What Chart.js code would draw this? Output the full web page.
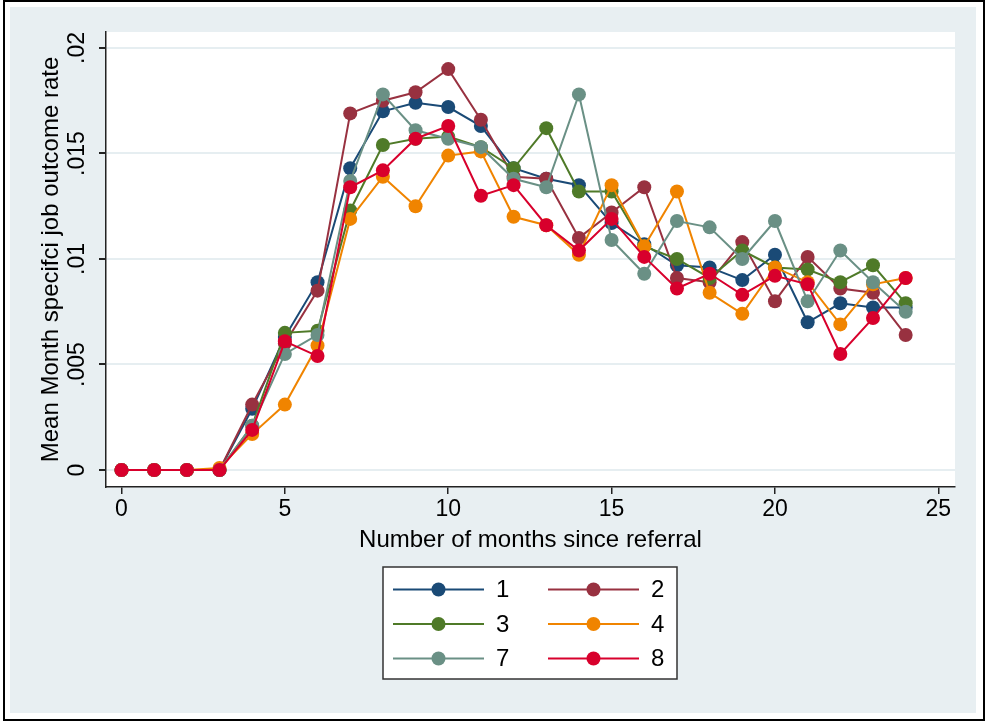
<!DOCTYPE html>
<html>
<head>
<meta charset="utf-8">
<script src="https://cdn.jsdelivr.net/npm/chart.js@4.4.0/dist/chart.umd.min.js"></script>
<style>
  html, body { margin: 0; padding: 0; background: #fff; }
</style>
</head>
<body>
<canvas id="myChart" width="987" height="722"></canvas>
<script>
// Data
const months = [0,1,2,3,4,5,6,7,8,9,10,11,12,13,14,15,16,17,18,19,20,21,22,23,24];
const groupNames = ['1', '2', '3', '4', '7', '8'];
const groupColors = ['#1a4a76', '#983140', '#4f7a28', '#f08400', '#6a9085', '#d8002c'];

const rate1 = [0,0,0,0,0.0029,0.0063,0.0089,0.0143,0.0170,0.0174,0.0172,0.0163,0.0143,0.0138,0.0135,0.0117,0.0107,0.0097,0.0096,0.0090,0.0102,0.0070,0.0079,0.0077,0.0077];
const rate2 = [0,0,0,0,0.0031,0.0060,0.0085,0.0169,0.0175,0.0179,0.0190,0.0166,0.0139,0.0138,0.0110,0.0122,0.0134,0.0091,0.0089,0.0108,0.0080,0.0101,0.0086,0.0084,0.0064];
const rate3 = [0,0,0,0,0.0021,0.0065,0.0066,0.0123,0.0154,0.0157,0.0158,0.0153,0.0143,0.0162,0.0132,0.0132,0.0106,0.0100,0.0091,0.0104,0.0096,0.0095,0.0089,0.0097,0.0079];
const rate4 = [0,0,0,0.0001,0.0017,0.0031,0.0059,0.0119,0.0139,0.0125,0.0149,0.0151,0.0120,0.0116,0.0102,0.0135,0.0106,0.0132,0.0084,0.0074,0.0096,0.0089,0.0069,0.0088,0.0091];
const rate7 = [0,0,0,0,0.0021,0.0055,0.0064,0.0137,0.0178,0.0161,0.0157,0.0153,0.0138,0.0134,0.0178,0.0109,0.0093,0.0118,0.0115,0.0100,0.0118,0.0080,0.0104,0.0089,0.0075];
const rate8 = [0,0,0,0,0.0019,0.0061,0.0054,0.0134,0.0142,0.0157,0.0163,0.0130,0.0135,0.0116,0.0104,0.0119,0.0101,0.0086,0.0093,0.0083,0.0092,0.0088,0.0055,0.0072,0.0091];

const xTicks = [0, 5, 10, 15, 20, 25];
const yTicks = [0, 0.005, 0.01, 0.015, 0.02];

const allRates = [rate1, rate2, rate3, rate4, rate7, rate8];
const fontFamily = '"Liberation Sans", Arial, sans-serif';

const datasets = allRates.map((rates, i) => ({
    label: groupNames[i],
    data: rates,
    borderColor: groupColors[i],
    backgroundColor: groupColors[i],
    pointBackgroundColor: groupColors[i],
    pointBorderWidth: 0,
    pointRadius: 7,
    pointHoverRadius: 7,
    borderWidth: 2,
    tension: 0,
    order: allRates.length - i   // later groups drawn on top, like stata
}));

// background, frame and plot region
const framePlugin = {
    id: 'frame',
    beforeDraw(chart) {
        const c = chart.ctx;
        const a = chart.chartArea;
        c.save();
        c.fillStyle = '#ffffff';
        c.fillRect(0, 0, chart.width, chart.height);
        c.strokeStyle = '#000';
        c.lineWidth = 2;
        c.strokeRect(4, 1, 980, 719);
        c.fillStyle = '#e8eff2';
        c.fillRect(10, 7, 966, 706);
        c.fillStyle = '#ffffff';
        c.fillRect(a.left, a.top, a.right - a.left, a.bottom - a.top);
        c.restore();
    }
};

// stata style legend: line with marker in the middle, 2 columns
const legendPlugin = {
    id: 'stataLegend',
    afterDraw(chart) {
        const c = chart.ctx;
        c.save();
        c.fillStyle = '#fff';
        c.fillRect(383, 567, 294, 112);
        c.strokeStyle = '#333';
        c.lineWidth = 1.5;
        c.strokeRect(383, 567, 294, 112);
        chart.data.datasets.forEach((ds, i) => {
            const col = i % 2;
            const row = Math.floor(i / 2);
            const x0 = col ? 548 : 393;
            const y = 589.5 + row * 34.5;
            c.strokeStyle = ds.borderColor;
            c.lineWidth = 2;
            c.beginPath();
            c.moveTo(x0, y);
            c.lineTo(x0 + 91, y);
            c.stroke();
            c.fillStyle = ds.borderColor;
            c.beginPath();
            c.arc(x0 + 45.5, y, 7, 0, Math.PI * 2);
            c.fill();
            c.fillStyle = '#000';
            c.font = '24px ' + fontFamily;
            c.textBaseline = 'middle';
            c.textAlign = 'left';
            c.fillText(ds.label, x0 + 103, y + 1);
        });
        c.restore();
    }
};

const ctx = document.getElementById('myChart');

const config = {
    type: 'line',
    data: {
        labels: months,
        datasets: datasets
    },
    options: {
        responsive: false,
        animation: false,
        layout: {
            padding: { left: 0, top: 32, right: 32, bottom: 0 }
        },
        plugins: {
            legend: { display: false },
            tooltip: { enabled: false }
        },
        scales: {
            x: {
                type: 'linear',
                min: -0.474,
                max: 25.51,
                afterBuildTicks: s => { s.ticks = xTicks.map(v => ({ value: v })); },
                afterFit: s => { s.height = 235; },
                border: { display: true, color: '#222', width: 1.5 },
                grid: { drawOnChartArea: false, drawTicks: true, tickLength: 7, tickColor: '#222', lineWidth: 1.5 },
                ticks: {
                    autoSkip: false,
                    maxRotation: 0,
                    padding: 2,
                    color: '#000',
                    font: { family: fontFamily, size: 23 }
                },
                title: {
                    display: true,
                    text: 'Number of months since referral',
                    color: '#000',
                    font: { family: fontFamily, size: 24 },
                    padding: { top: 0, bottom: 167 }
                }
            },
            y: {
                min: -0.000806,
                max: 0.020758,
                afterBuildTicks: s => { s.ticks = yTicks.map(v => ({ value: v })); },
                afterFit: s => { s.width = 106; },
                border: { display: true, color: '#222', width: 1.5 },
                grid: { color: '#e6eef1', lineWidth: 2, drawTicks: true, tickLength: 7, tickColor: '#222' },
                ticks: {
                    autoSkip: false,
                    minRotation: 90,
                    maxRotation: 90,
                    crossAlign: 'center',
                    padding: -1,
                    color: '#000',
                    font: { family: fontFamily, size: 23 },
                    callback: v => v === 0 ? '0' : String(v).replace(/^0/, '')
                },
                title: {
                    display: true,
                    text: 'Mean Month specifci job outcome rate',
                    color: '#000',
                    font: { family: fontFamily, size: 24 },
                    padding: { top: 37, bottom: 0 }
                }
            }
        }
    },
    plugins: [framePlugin, legendPlugin]
};

const chart = new Chart(ctx, config);
</script>
</body>
</html>
